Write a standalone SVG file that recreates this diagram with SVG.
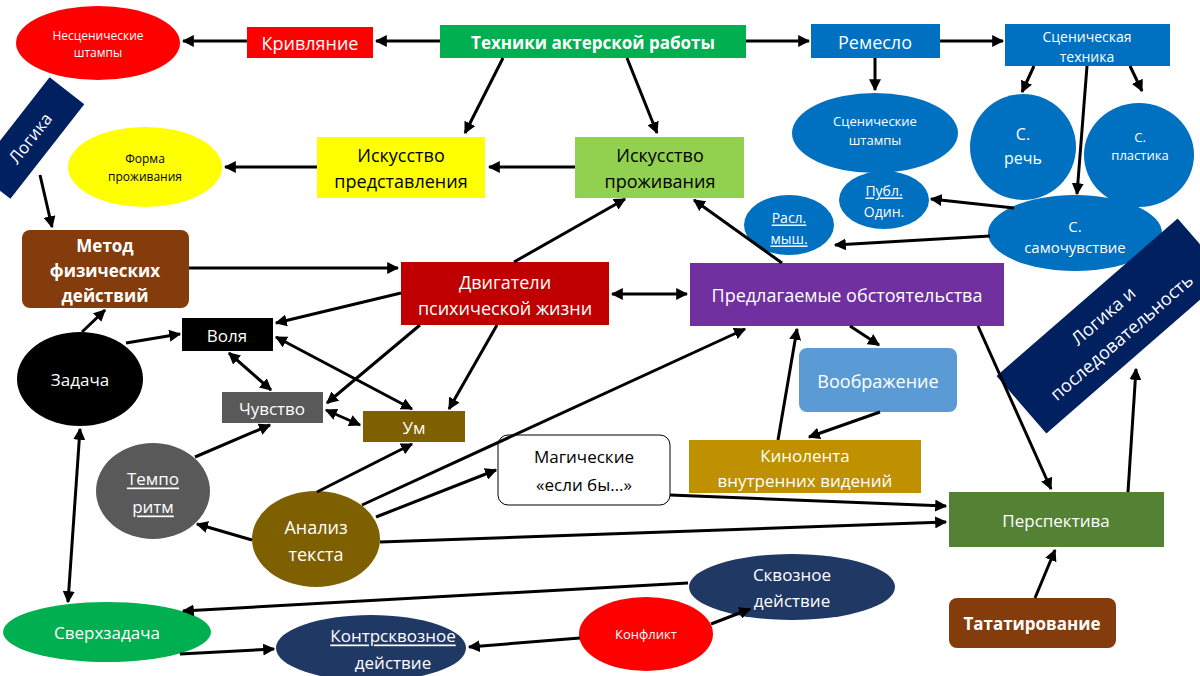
<svg xmlns="http://www.w3.org/2000/svg" width="1200" height="676" viewBox="0 0 1200 676">
<defs>
<marker id="a" viewBox="0 0 10 10" refX="9" refY="5" markerWidth="4" markerHeight="4" orient="auto-start-reverse"><path d="M0,0L10,5L0,10z" fill="#000"/></marker>
<style>
text{font-family:"Open Sans","Liberation Sans",sans-serif;fill:#fff;text-anchor:middle;dominant-baseline:central}
.b{font-weight:bold}
.k{fill:#000}
#conn line{stroke:#000;stroke-width:3;marker-end:url(#a)}
#conn line.d{marker-start:url(#a)}
</style>
</defs>
<rect width="1200" height="676" fill="#fff"/>
<g id="n1"><ellipse cx="98" cy="43" rx="82" ry="37" fill="#ff0000"/><text x="98" y="35" font-size="12">Несценические</text><text x="98" y="52" font-size="12">штампы</text></g>
<g id="n2"><rect x="247" y="27" width="126" height="31" fill="#ff0000"/><text x="310" y="43" font-size="18">Кривляние</text></g>
<g id="n3"><rect x="440" y="25" width="306" height="33" fill="#00b050"/><text x="593" y="42" font-size="17" class="b">Техники актерской работы</text></g>
<g id="n4"><rect x="811" y="24" width="129" height="34" fill="#0070c0"/><text x="875" y="42" font-size="18">Ремесло</text></g>
<g id="n5"><rect x="1005" y="24" width="165" height="42" fill="#0070c0"/><text x="1087" y="36" font-size="14">Сценическая</text><text x="1087" y="56" font-size="14">техника</text></g>
<g id="n6"><ellipse cx="875" cy="133" rx="83" ry="40" fill="#0070c0"/><text x="875" y="121" font-size="13">Сценические</text><text x="875" y="140" font-size="13">штампы</text></g>
<g id="n7"><ellipse cx="1023" cy="147" rx="53" ry="53" fill="#0070c0"/><text x="1023" y="134" font-size="16">С.</text><text x="1023" y="158" font-size="16">речь</text></g>
<g id="n8"><ellipse cx="1139" cy="155" rx="55" ry="52" fill="#0070c0"/><text x="1140" y="137" font-size="13">С.</text><text x="1140" y="155" font-size="13">пластика</text></g>
<g id="n9"><ellipse cx="884" cy="200" rx="45" ry="29" fill="#0070c0"/><text x="884" y="190" font-size="14" text-decoration="underline">Публ.</text><text x="884" y="211" font-size="14">Один.</text></g>
<g id="n10"><ellipse cx="789" cy="225" rx="45" ry="30" fill="#0070c0"/><text x="789" y="217" font-size="14" text-decoration="underline">Расл.</text><text x="789" y="238" font-size="14" text-decoration="underline">мыш.</text></g>
<g id="n11"><ellipse cx="1075" cy="233" rx="87" ry="38" fill="#0070c0"/><text x="1075" y="226" font-size="15">С.</text><text x="1075" y="247" font-size="15">самочувствие</text></g>
<g id="n12" transform="translate(30,138) rotate(-52)"><rect x="-60" y="-22" width="120" height="44" fill="#002060"/><text x="0" y="0" font-size="17">Логика</text></g>
<g id="n13"><ellipse cx="145" cy="167" rx="77" ry="40" fill="#ffff00"/><text x="145" y="158" font-size="12" class="k">Форма</text><text x="145" y="176" font-size="12" class="k">проживания</text></g>
<g id="n14"><rect x="317" y="137" width="168" height="61" fill="#ffff00"/><text x="401" y="155" font-size="18" class="k">Искусство</text><text x="401" y="181" font-size="18" class="k">представления</text></g>
<g id="n15"><rect x="575" y="137" width="169" height="61" fill="#92d050"/><text x="660" y="155" font-size="18" class="k">Искусство</text><text x="660" y="181" font-size="18" class="k">проживания</text></g>
<g id="n16"><rect x="22" y="230" width="167" height="78" rx="8" fill="#843c0c"/><text x="105" y="245" font-size="17" class="b">Метод</text><text x="105" y="270" font-size="17" class="b">физических</text><text x="105" y="295" font-size="17" class="b">действий</text></g>
<g id="n17"><rect x="401" y="262" width="208" height="63" fill="#c00000"/><text x="505" y="282" font-size="18">Двигатели</text><text x="505" y="308" font-size="18">психической жизни</text></g>
<g id="n18"><rect x="690" y="263" width="314" height="63" fill="#7030a0"/><text x="847" y="295" font-size="18">Предлагаемые обстоятельства</text></g>
<g id="n19" transform="translate(1112,326) rotate(-41)"><rect x="-120" y="-38" width="240" height="76" fill="#002060"/><text x="0" y="-14" font-size="18">Логика и</text><text x="0" y="14" font-size="18">последовательность</text></g>
<g id="n20"><rect x="182" y="318" width="91" height="33" fill="#000"/><text x="227" y="335" font-size="17">Воля</text></g>
<g id="n21"><ellipse cx="80" cy="379" rx="63" ry="47" fill="#000"/><text x="80" y="379" font-size="17">Задача</text></g>
<g id="n22"><rect x="222" y="392" width="101" height="31" fill="#595959"/><text x="272" y="408" font-size="17">Чувство</text></g>
<g id="n23"><rect x="363" y="411" width="102" height="31" fill="#7f6000"/><text x="414" y="427" font-size="17">Ум</text></g>
<g id="n24"><rect x="799" y="348" width="158" height="64" rx="8" fill="#5b9bd5"/><text x="878" y="381" font-size="18">Воображение</text></g>
<g id="n25"><rect x="689" y="440" width="232" height="53" fill="#bf9000"/><text x="805" y="455" font-size="17">Кинолента</text><text x="805" y="480" font-size="17">внутренних видений</text></g>
<g id="n26"><rect x="498" y="435" width="172" height="70" rx="10" fill="#fff" stroke="#000" stroke-width="1"/><text x="584" y="456" font-size="17" class="k">Магические</text><text x="584" y="484" font-size="17" class="k">«если бы…»</text></g>
<g id="n27"><ellipse cx="153" cy="491" rx="57" ry="48" fill="#595959"/><text x="153" y="478" font-size="17" text-decoration="underline">Темпо</text><text x="153" y="506" font-size="17" text-decoration="underline">ритм</text></g>
<g id="n28"><ellipse cx="316" cy="539" rx="64" ry="48" fill="#7f6000"/><text x="316" y="527" font-size="18">Анализ</text><text x="316" y="554" font-size="18">текста</text></g>
<g id="n29"><rect x="949" y="492" width="215" height="55" fill="#548235"/><text x="1056" y="520" font-size="17">Перспектива</text></g>
<g id="n30"><ellipse cx="792" cy="587" rx="103" ry="33" fill="#203864"/><text x="792" y="574" font-size="17">Сквозное</text><text x="792" y="600" font-size="17">действие</text></g>
<g id="n31"><ellipse cx="107" cy="632" rx="104" ry="30" fill="#00b050"/><text x="107" y="632" font-size="17">Сверхзадача</text></g>
<g id="n32"><ellipse cx="371" cy="648" rx="95" ry="33" fill="#203864"/><text x="393" y="635" font-size="17" text-decoration="underline">Контрсквозное</text><text x="393" y="662" font-size="17">действие</text></g>
<g id="n33"><ellipse cx="646" cy="634" rx="67" ry="37" fill="#ff0000"/><text x="646" y="634" font-size="13">Конфликт</text></g>
<g id="n34"><rect x="949" y="598" width="167" height="50" rx="8" fill="#843c0c"/><text x="1032" y="623" font-size="17" class="b">Тататирование</text></g>
<g id="conn">
<line x1="440" y1="41" x2="376" y2="41"/>
<line x1="247" y1="41" x2="183" y2="41"/>
<line x1="746" y1="41" x2="809" y2="41"/>
<line x1="940" y1="41" x2="1003" y2="41"/>
<line x1="875" y1="58" x2="875" y2="90"/>
<line x1="1034" y1="66" x2="1022" y2="92"/>
<line x1="1130" y1="66" x2="1142" y2="91"/>
<line x1="1087" y1="66" x2="1077" y2="194"/>
<line x1="1014" y1="208" x2="931" y2="199"/>
<line x1="990" y1="236" x2="835" y2="245"/>
<line x1="503" y1="58" x2="465" y2="133"/>
<line x1="627" y1="58" x2="657" y2="133"/>
<line x1="575" y1="167" x2="489" y2="167"/>
<line x1="317" y1="167" x2="225" y2="167"/>
<line x1="40" y1="175" x2="52" y2="227"/>
<line x1="189" y1="268" x2="398" y2="268"/>
<line x1="514" y1="262" x2="625" y2="199"/>
<line x1="782" y1="263" x2="694" y2="200"/>
<line class="d" x1="612" y1="294" x2="687" y2="294"/>
<line x1="401" y1="293" x2="276" y2="323"/>
<line x1="420" y1="325" x2="327" y2="403"/>
<line x1="497" y1="325" x2="449" y2="409"/>
<line x1="82" y1="332" x2="105" y2="310"/>
<line x1="126" y1="343" x2="180" y2="334"/>
<line class="d" x1="229" y1="353" x2="271" y2="390"/>
<line class="d" x1="276" y1="337" x2="412" y2="409"/>
<line class="d" x1="326" y1="410" x2="360" y2="425"/>
<line x1="195" y1="457" x2="270" y2="425"/>
<line x1="317" y1="492" x2="412" y2="444"/>
<line x1="252" y1="540" x2="197" y2="524"/>
<line x1="362" y1="505" x2="745" y2="329"/>
<line x1="376" y1="517" x2="496" y2="470"/>
<line x1="380" y1="542" x2="946" y2="522"/>
<line x1="670" y1="495" x2="946" y2="506"/>
<line x1="850" y1="326" x2="879" y2="345"/>
<line x1="778" y1="440" x2="797" y2="329"/>
<line x1="880" y1="412" x2="809" y2="437"/>
<line x1="978" y1="326" x2="1051" y2="489"/>
<line x1="1128" y1="492" x2="1136" y2="369"/>
<line x1="1035" y1="598" x2="1055" y2="550"/>
<line class="d" x1="80" y1="429" x2="68" y2="602"/>
<line x1="688" y1="583" x2="183" y2="611"/>
<line x1="180" y1="654" x2="274" y2="649"/>
<line x1="580" y1="638" x2="469" y2="647"/>
<line x1="711" y1="624" x2="750" y2="609"/>
</g>
</svg>
